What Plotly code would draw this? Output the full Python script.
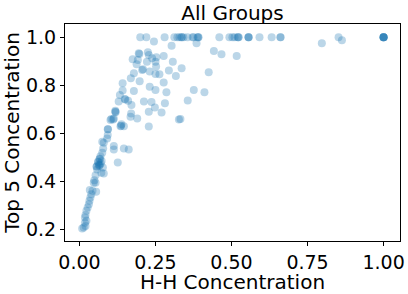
import plotly.graph_objects as go

# H-H concentration (x) and Top 5 concentration (y) for each group
x_vals = [
    # points at y = 1.0
    0.20, 0.22, 0.28, 0.312, 0.322, 0.329, 0.336, 0.336, 0.342, 0.355, 0.372, 0.375,
    0.388, 0.391, 0.391, 0.46, 0.493, 0.503, 0.51, 0.52, 0.523, 0.523, 0.556, 0.556,
    0.556, 0.592, 0.632, 0.661, 0.661, 0.852, 1.0, 1.0, 1.0, 1.0, 1.0, 1.0,
    # upper scatter
    0.385, 0.442, 0.467, 0.517, 0.336, 0.425, 0.376, 0.411, 0.356, 0.332, 0.797, 0.863,
    0.245, 0.303, 0.195, 0.197, 0.225, 0.228, 0.175, 0.192, 0.188, 0.222, 0.239, 0.253,
    0.277, 0.25, 0.307, 0.209, 0.206, 0.231, 0.252, 0.25, 0.263, 0.294, 0.317, 0.179,
    0.169, 0.198, 0.277, 0.142, 0.231, 0.25, 0.286, 0.179, 0.142, 0.133, 0.129, 0.149,
    0.151, 0.16, 0.212, 0.237, 0.281, 0.248, 0.228, 0.27, 0.19, 0.327, 0.171, 0.17,
    0.168, 0.118, 0.118, 0.119, 0.105, 0.113, 0.138, 0.135, 0.137, 0.146, 0.228, 0.094,
    0.102, 0.111,
    # lower curve
    0.093, 0.093, 0.091, 0.075, 0.08, 0.078, 0.075, 0.069, 0.066, 0.067, 0.113, 0.113,
    0.146, 0.162, 0.126, 0.061, 0.062, 0.056, 0.057, 0.067, 0.077, 0.08, 0.072, 0.053,
    0.049, 0.047, 0.053, 0.034, 0.043, 0.055, 0.039, 0.036, 0.033, 0.031, 0.027, 0.023,
    0.02, 0.018, 0.023, 0.018, 0.014, 0.02, 0.009, 0.063, 0.07, 0.073, 0.065, 0.058,
]
y_vals = [
    1.0, 1.0, 1.0, 1.0, 1.0, 1.0, 1.0, 1.0, 1.0, 1.0, 1.0, 1.0,
    1.0, 1.0, 1.0, 1.0, 1.0, 1.0, 1.0, 1.0, 1.0, 1.0, 1.0, 1.0,
    1.0, 1.0, 1.0, 1.0, 1.0, 1.0, 1.0, 1.0, 1.0, 1.0, 1.0, 1.0,
    0.975, 0.943, 0.929, 0.922, 0.871, 0.854, 0.78, 0.771, 0.737, 0.66, 0.975, 0.987,
    0.982, 0.964, 0.933, 0.93, 0.937, 0.926, 0.908, 0.905, 0.887, 0.898, 0.912, 0.917,
    0.922, 0.898, 0.898, 0.867, 0.864, 0.857, 0.878, 0.847, 0.846, 0.861, 0.839, 0.85,
    0.829, 0.817, 0.812, 0.808, 0.794, 0.78, 0.771, 0.776, 0.778, 0.76, 0.732, 0.743,
    0.741, 0.736, 0.732, 0.73, 0.725, 0.708, 0.69, 0.687, 0.662, 0.658, 0.718, 0.683,
    0.669, 0.694, 0.69, 0.688, 0.66, 0.662, 0.638, 0.63, 0.632, 0.63, 0.628, 0.617,
    0.655, 0.658,
    0.617, 0.593, 0.579, 0.565, 0.561, 0.537, 0.519, 0.505, 0.492, 0.494, 0.547, 0.533,
    0.537, 0.533, 0.479, 0.482, 0.48, 0.461, 0.463, 0.468, 0.458, 0.433, 0.436, 0.426,
    0.405, 0.394, 0.394, 0.364, 0.361, 0.357, 0.347, 0.333, 0.319, 0.305, 0.291, 0.278,
    0.26, 0.25, 0.236, 0.228, 0.208, 0.214, 0.204, 0.47, 0.475, 0.485, 0.465, 0.45,
]

x_ticks = [0.0, 0.25, 0.5, 0.75, 1.0]
x_tick_labels = ["0.00", "0.25", "0.50", "0.75", "1.00"]
y_ticks = [0.2, 0.4, 0.6, 0.8, 1.0]
y_tick_labels = ["0.2", "0.4", "0.6", "0.8", "1.0"]

font = "DejaVu Sans"

fig = go.Figure(
    go.Scatter(
        x=x_vals,
        y=y_vals,
        mode="markers",
        marker=dict(size=8, color="#1f77b4", opacity=0.3, line=dict(width=0)),
        hoverinfo="skip",
    )
)

axis_common = dict(
    showline=True,
    linecolor="black",
    linewidth=1,
    mirror=True,
    ticks="outside",
    ticklen=4,
    tickwidth=1,
    tickcolor="black",
    showgrid=False,
    zeroline=False,
    automargin=False,
    tickfont=dict(family=font, size=19, color="black"),
)

fig.update_layout(
    width=408,
    height=294,
    margin=dict(l=65, r=8, t=24, b=53, autoexpand=False),
    paper_bgcolor="white",
    plot_bgcolor="white",
    showlegend=False,
    title=dict(
        text="All Groups",
        font=dict(family=font, size=20, color="black"),
        xref="paper",
        x=0.5,
        xanchor="center",
        yref="container",
        y=0.955,
        yanchor="middle",
    ),
    xaxis=dict(
        axis_common,
        range=[-0.0475, 1.054],
        tickvals=x_ticks,
        ticktext=x_tick_labels,
        title=dict(text="H-H Concentration", font=dict(family=font, size=20, color="black"), standoff=0),
    ),
    yaxis=dict(
        axis_common,
        range=[0.152, 1.055],
        tickvals=y_ticks,
        ticktext=y_tick_labels,
        title=dict(text="Top 5 Concentration", font=dict(family=font, size=20, color="black"), standoff=2),
    ),
)

fig.write_html(
    "out.html",
    config={"displayModeBar": False},
    post_script="document.body.style.margin='0';document.body.style.overflow='hidden';",
)
